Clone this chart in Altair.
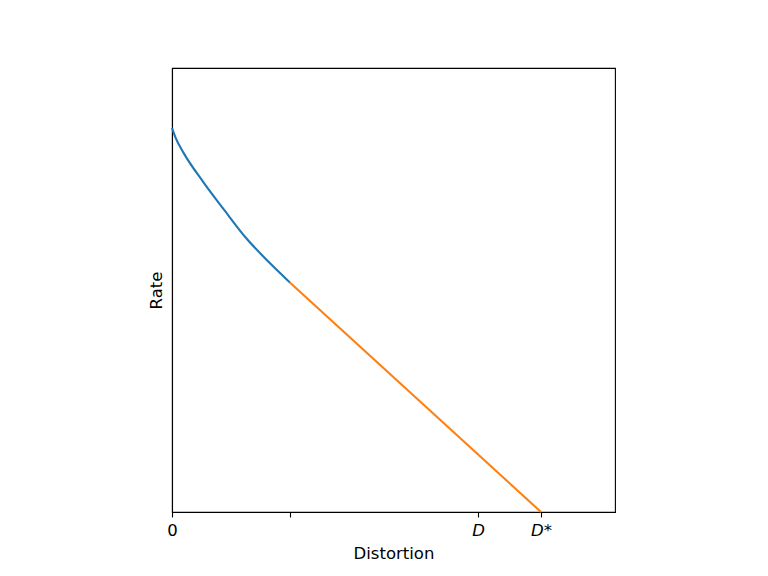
import altair as alt
import pandas as pd

# Blue: curved part of the rate-distortion curve
blue_x = [0.0, 0.008, 0.0255, 0.0707, 0.1196, 0.1648, 0.2174, 0.266]
blue_y = [0.865, 0.843, 0.810, 0.743, 0.678, 0.620, 0.564, 0.517]
# Orange: straight-line part
orange_x = [0.266, 0.833]
orange_y = [0.517, 0.0]

tick_vals = [0.0, 0.266, 0.691, 0.833]
tick_labels = ["0", "", "D", "D*"]

rows = []
for i, (x, y) in enumerate(zip(blue_x, blue_y)):
    rows.append({"x": x, "y": y, "seg": "blue", "o": i})
for i, (x, y) in enumerate(zip(orange_x, orange_y)):
    rows.append({"x": x, "y": y, "seg": "orange", "o": i})
df = pd.DataFrame(rows)

label_expr = " : ".join(
    f"abs(datum.value - {v}) < 0.001 ? '{l}'" for v, l in zip(tick_vals, tick_labels)
) + " : ''"

FS = 16.5

chart = alt.Chart(df).mark_line(strokeWidth=2.1, interpolate="monotone").encode(
    x=alt.X("x:Q", scale=alt.Scale(domain=[0, 1], nice=False, zero=False),
            axis=alt.Axis(values=tick_vals, title="Distortion",
                          labelExpr=label_expr, labelFlush=False,
                          labelFontStyle={"condition": {"test": "datum.value > 0.5", "value": "italic"}, "value": "normal"},
                          grid=False, tickSize=5, tickWidth=1.1, tickColor="black",
                          domainColor="black", domainWidth=1.1,
                          labelFont="DejaVu Sans", labelFontSize=FS, labelColor="black",
                          labelPadding=5, titleFont="DejaVu Sans", titleFontSize=FS,
                          titleFontWeight="normal", titleColor="black", titlePadding=7)),
    y=alt.Y("y:Q", scale=alt.Scale(domain=[0, 1], nice=False, zero=False),
            axis=alt.Axis(title="Rate", labels=False, ticks=False, grid=False,
                          domainColor="black", domainWidth=1.1,
                          titleFont="DejaVu Sans", titleFontSize=FS,
                          titleFontWeight="normal", titleColor="black", titlePadding=8)),
    color=alt.Color("seg:N", scale=alt.Scale(domain=["blue", "orange"], range=["#1f77b4", "#ff7f0e"]), legend=None),
    order="o:Q",
    detail="seg:N",
).properties(
    width=443, height=444,
    autosize=alt.AutoSizeParams(type="none"),
    padding={"left": 164, "top": 60, "right": 145, "bottom": 56},
).configure(background="white").configure_view(stroke="black", strokeWidth=1.1)

chart.save("out.html", embed_options={"renderer": "svg", "actions": False})
